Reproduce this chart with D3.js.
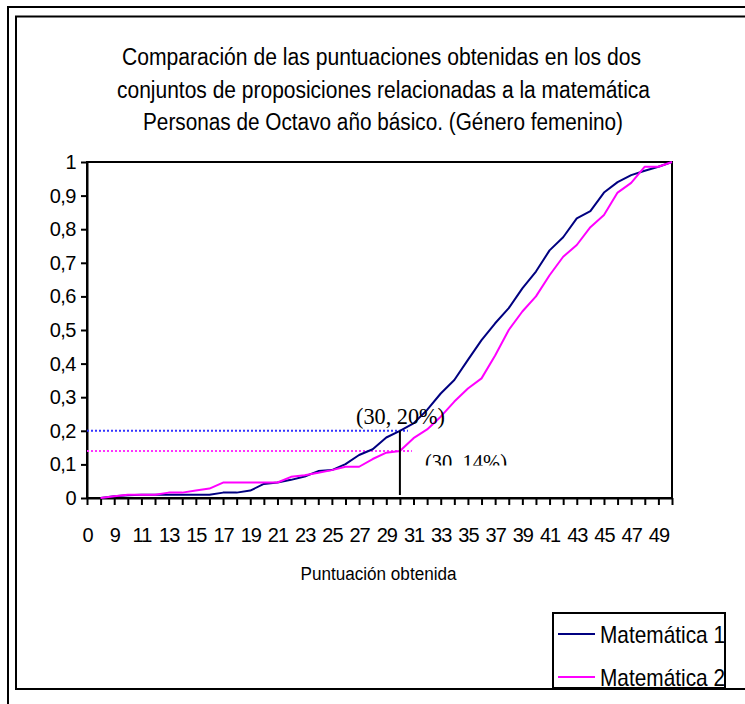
<!DOCTYPE html>
<html>
<head>
<meta charset="utf-8">
<script src="https://cdn.jsdelivr.net/npm/d3@7"></script>
<style>
  html, body { margin: 0; padding: 0; background: #fff; }
  svg { display: block; }
</style>
</head>
<body>
<svg id="chart" width="745" height="704"></svg>
<script>
// ---------- DATA ----------
const categories = ["0","8","9","10","11","12","13","14","15","16","17","18","19","20","21","22","23","24","25","26","27","28","29","30","31","32","33","34","35","36","37","38","39","40","41","42","43","44","45","46","47","48","49","50"];
const matematica1 = [null,0,0.005,0.008,0.01,0.01,0.01,0.01,0.01,0.01,0.016,0.016,0.022,0.042,0.046,0.054,0.064,0.08,0.083,0.101,0.128,0.145,0.18,0.2,0.222,0.262,0.311,0.351,0.411,0.47,0.52,0.565,0.624,0.674,0.737,0.776,0.832,0.854,0.909,0.94,0.961,0.974,0.986,1];
const matematica2 = [null,0,0.005,0.01,0.01,0.01,0.016,0.016,0.022,0.028,0.046,0.046,0.046,0.046,0.046,0.063,0.068,0.075,0.083,0.093,0.093,0.116,0.135,0.14,0.178,0.204,0.242,0.287,0.326,0.356,0.424,0.5,0.555,0.6,0.663,0.718,0.753,0.806,0.842,0.909,0.938,0.986,0.986,1];
const seriesNames = ["Matemática 1", "Matemática 2"];
const yTickValues = [0,0.1,0.2,0.3,0.4,0.5,0.6,0.7,0.8,0.9,1];
const titleLines = [
  "Comparación de las puntuaciones obtenidas en los dos",
  "conjuntos de proposiciones  relacionadas a la matemática",
  "Personas  de Octavo año básico. (Género femenino)"
];
const xAxisTitle = "Puntuación obtenida";
const markCategory = "30";
const markValue1 = 0.2;
const markValue2 = 0.14;
const markLabel1 = "(30, 20%)";
const markLabel2 = "(30. 14%)";

// ---------- LAYOUT ----------
const SANS = "'Liberation Sans', Arial, sans-serif";
const SERIF = "'Liberation Serif', 'Times New Roman', serif";
const svg = d3.select("#chart");
const colors = ["#000080", "#FF00FF"];
const plot = { left: 87, right: 672, top: 162, bottom: 498 };

// frames
svg.append("rect").attr("x", 8).attr("y", 7).attr("width", 760).attr("height", 720)
  .attr("fill", "none").attr("stroke", "#000").attr("stroke-width", 2);
svg.append("rect").attr("x", 16).attr("y", 16.5).attr("width", 760).attr("height", 672.5)
  .attr("fill", "#fff").attr("stroke", "#000").attr("stroke-width", 2);

// title
const titleWidths = [519, 533, 480];
const titleCenters = [381.5, 383.5, 383];
const titleBase = [65, 97.5, 130];
titleLines.forEach((t, i) => {
  svg.append("text")
    .style("font-family", SANS)
    .attr("x", titleCenters[i] - titleWidths[i] / 2)
    .attr("y", titleBase[i])
    .attr("font-size", 23)
    .attr("textLength", titleWidths[i])
    .attr("lengthAdjust", "spacingAndGlyphs")
    .text(t);
});

// scales
const x = d3.scalePoint().domain(categories).range([plot.left, plot.right]).padding(0);
const y = d3.scaleLinear().domain([0, 1]).range([plot.bottom, plot.top]);

// plot frame
svg.append("rect")
  .attr("x", plot.left).attr("y", plot.top)
  .attr("width", plot.right - plot.left).attr("height", plot.bottom - plot.top)
  .attr("fill", "#fff").attr("stroke", "#000").attr("stroke-width", 2);

// axes
const yAxis = d3.axisLeft(y).tickValues(yTickValues).tickSize(6).tickSizeOuter(0)
  .tickFormat(d => (d === 0 || d === 1) ? String(d) : d.toFixed(1).replace(".", ","));
const gy = svg.append("g").attr("transform", `translate(${plot.left},0)`).call(yAxis);
gy.select(".domain").attr("stroke", "#000").attr("stroke-width", 2);
gy.selectAll(".tick line").attr("stroke", "#000").attr("stroke-width", 2);
gy.selectAll(".tick text").attr("font-size", 20).attr("x", -11)
  .style("font-family", SANS).attr("fill", "#000").attr("letter-spacing", "-0.5");

const xAxis = d3.axisBottom(x).tickSize(7).tickSizeOuter(0)
  .tickFormat((d, i) => i % 2 === 0 ? d : "");
const gx = svg.append("g").attr("transform", `translate(0,${plot.bottom})`).call(xAxis);
gx.select(".domain").attr("stroke", "#000").attr("stroke-width", 2);
gx.selectAll(".tick line").attr("stroke", "#000").attr("stroke-width", 2);
gx.selectAll(".tick text").attr("font-size", 20).attr("y", 43.5).attr("dy", "0")
  .attr("letter-spacing", "-1")
  .style("font-family", SANS).attr("fill", "#000");

// x axis title
svg.append("text")
  .style("font-family", SANS)
  .attr("x", 300.5).attr("y", 580)
  .attr("font-size", 18)
  .attr("textLength", 156).attr("lengthAdjust", "spacingAndGlyphs")
  .text(xAxisTitle);

// reference lines
const xm = x(markCategory);
svg.append("line").attr("x1", plot.left).attr("x2", xm + 8)
  .attr("y1", y(markValue1)).attr("y2", y(markValue1))
  .attr("stroke", "#3333FF").attr("stroke-width", 2).attr("stroke-dasharray", "2,2");
svg.append("line").attr("x1", plot.left).attr("x2", xm + 12)
  .attr("y1", y(markValue2)).attr("y2", y(markValue2))
  .attr("stroke", "#FF33FF").attr("stroke-width", 2).attr("stroke-dasharray", "2,2");

// series lines
const line = d3.line()
  .defined(d => d.v !== null)
  .x(d => x(d.c))
  .y(d => y(d.v));
[matematica1, matematica2].forEach((vals, s) => {
  const pts = categories.map((c, i) => ({ c, v: vals[i] }));
  svg.append("path").datum(pts)
    .attr("fill", "none").attr("stroke", colors[s]).attr("stroke-width", 2)
    .attr("stroke-linejoin", "round")
    .attr("d", line);
});

// vertical marker
svg.append("line").attr("x1", xm).attr("x2", xm)
  .attr("y1", y(markValue1)).attr("y2", plot.bottom - 3)
  .attr("stroke", "#000").attr("stroke-width", 2);

// annotation labels
svg.append("text")
  .style("font-family", SERIF)
  .attr("x", 356).attr("y", 424)
  .attr("font-size", 23).attr("textLength", 89).attr("lengthAdjust", "spacingAndGlyphs")
  .text(markLabel1);
svg.append("clipPath").attr("id", "clip2")
  .append("rect").attr("x", 410).attr("y", 440).attr("width", 120).attr("height", 25.5);
svg.append("text")
  .style("font-family", SERIF)
  .attr("x", 425).attr("y", 470)
  .attr("clip-path", "url(#clip2)")
  .attr("font-size", 23).attr("textLength", 82).attr("lengthAdjust", "spacingAndGlyphs")
  .text(markLabel2);

// legend
const lg = svg.append("g");
lg.append("rect").attr("x", 553).attr("y", 613).attr("width", 172).attr("height", 75)
  .attr("fill", "#fff").attr("stroke", "#000").attr("stroke-width", 2);
const legY = [634, 677];
seriesNames.forEach((n, i) => {
  lg.append("line").attr("x1", 558).attr("x2", 595).attr("y1", legY[i]).attr("y2", legY[i])
    .attr("stroke", colors[i]).attr("stroke-width", 2);
  lg.append("text").style("font-family", SANS).attr("x", 600).attr("y", legY[i] + 9)
    .attr("font-size", 24).attr("textLength", 125).attr("lengthAdjust", "spacingAndGlyphs")
    .text(n);
});
</script>
</body>
</html>
